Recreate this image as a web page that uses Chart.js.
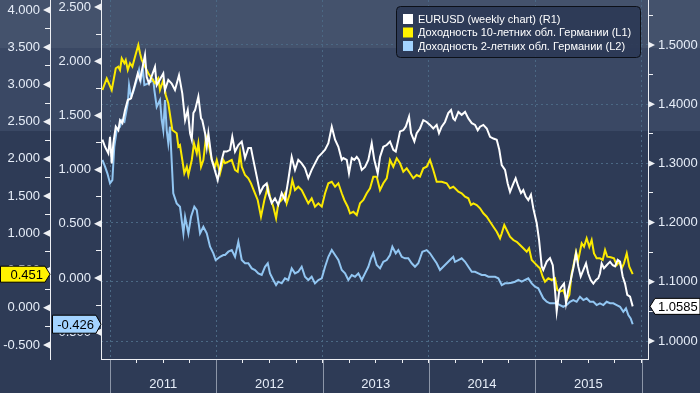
<!DOCTYPE html>
<html>
<head>
<meta charset="utf-8">
<script src="https://cdn.jsdelivr.net/npm/chart.js@4.4.1/dist/chart.umd.min.js"></script>
<style>
  html, body { margin: 0; padding: 0; }
  body {
    width: 700px; height: 393px; overflow: hidden;
    background: linear-gradient(to bottom, #44526c 0px, #44526c 48px, #3a4864 48px, #3a4864 131px, #2e3b56 131px, #2e3b56 393px);
  }
  canvas { display: block; }
</style>
</head>
<body>
<canvas id="fxChart" width="700" height="393"></canvas>
<script>
// EURUSD weekly (right axis)
const eurusdTimes = [
  2010.928, 2010.953, 2010.984, 2011.000, 2011.016, 2011.031, 2011.054, 2011.078, 2011.094, 2011.116,
  2011.141, 2011.167, 2011.198, 2011.229, 2011.261, 2011.282, 2011.329, 2011.345, 2011.367, 2011.423,
  2011.439, 2011.501, 2011.517, 2011.548, 2011.580, 2011.611, 2011.649, 2011.680, 2011.706, 2011.731,
  2011.753, 2011.769, 2011.784, 2011.800, 2011.831, 2011.856, 2011.868, 2011.894, 2011.910, 2011.925,
  2011.957, 2012.013, 2012.051, 2012.072, 2012.098, 2012.129, 2012.150, 2012.176, 2012.207, 2012.239,
  2012.270, 2012.301, 2012.326, 2012.348, 2012.380, 2012.411, 2012.442, 2012.474, 2012.489, 2012.521,
  2012.552, 2012.583, 2012.615, 2012.646, 2012.677, 2012.709, 2012.740, 2012.771, 2012.803, 2012.834,
  2012.865, 2012.897, 2012.928, 2012.960, 2012.992, 2013.023, 2013.054, 2013.086, 2013.117, 2013.148,
  2013.180, 2013.195, 2013.227, 2013.248, 2013.274, 2013.298, 2013.321, 2013.342, 2013.368, 2013.399,
  2013.430, 2013.462, 2013.486, 2013.518, 2013.540, 2013.571, 2013.603, 2013.634, 2013.665, 2013.688,
  2013.712, 2013.728, 2013.759, 2013.782, 2013.813, 2013.832, 2013.863, 2013.885, 2013.916, 2013.947,
  2013.979, 2014.010, 2014.041, 2014.073, 2014.095, 2014.120, 2014.151, 2014.182, 2014.208, 2014.229,
  2014.245, 2014.277, 2014.308, 2014.340, 2014.371, 2014.403, 2014.434, 2014.459, 2014.481, 2014.512,
  2014.544, 2014.575, 2014.606, 2014.638, 2014.662, 2014.685, 2014.716, 2014.741, 2014.763, 2014.794,
  2014.816, 2014.841, 2014.866, 2014.888, 2014.911, 2014.935, 2014.960, 2014.982, 2015.014, 2015.036,
  2015.061, 2015.076, 2015.108, 2015.139, 2015.165, 2015.186, 2015.202, 2015.227, 2015.249, 2015.271,
  2015.290, 2015.311, 2015.334, 2015.358, 2015.384, 2015.405, 2015.428, 2015.453, 2015.478, 2015.499,
  2015.522, 2015.547, 2015.572, 2015.593, 2015.609, 2015.625, 2015.647, 2015.672, 2015.704, 2015.729,
  2015.751, 2015.776, 2015.798, 2015.823, 2015.845, 2015.866, 2015.892, 2015.917
];
const eurusdValues = [
  1.340, 1.328, 1.317, 1.345, 1.300, 1.334, 1.362, 1.356, 1.373, 1.368,
  1.390, 1.407, 1.410, 1.430, 1.452, 1.441, 1.483, 1.446, 1.435, 1.463,
  1.432, 1.452, 1.424, 1.441, 1.435, 1.424, 1.449, 1.418, 1.373, 1.390,
  1.351, 1.340, 1.385, 1.390, 1.413, 1.376, 1.373, 1.351, 1.328, 1.351,
  1.306, 1.272, 1.306, 1.320, 1.320, 1.323, 1.345, 1.320, 1.331, 1.337,
  1.309, 1.326, 1.326, 1.306, 1.278, 1.250, 1.261, 1.266, 1.250, 1.233,
  1.241, 1.230, 1.250, 1.238, 1.272, 1.311, 1.289, 1.306, 1.300, 1.292,
  1.275, 1.289, 1.300, 1.311, 1.317, 1.323, 1.334, 1.362, 1.340, 1.328,
  1.306, 1.309, 1.306, 1.283, 1.309, 1.306, 1.311, 1.306, 1.289, 1.294,
  1.306, 1.334, 1.306, 1.283, 1.311, 1.328, 1.331, 1.337, 1.323, 1.320,
  1.340, 1.354, 1.356, 1.362, 1.379, 1.351, 1.337, 1.351, 1.359, 1.373,
  1.370, 1.365, 1.359, 1.365, 1.351, 1.362, 1.370, 1.385, 1.390, 1.376,
  1.373, 1.387, 1.382, 1.387, 1.376, 1.368, 1.365, 1.356, 1.362, 1.365,
  1.359, 1.345, 1.342, 1.340, 1.323, 1.297, 1.289, 1.266, 1.252, 1.266,
  1.275, 1.261, 1.250, 1.255, 1.244, 1.238, 1.247, 1.224, 1.199, 1.171,
  1.126, 1.120, 1.134, 1.140, 1.128, 1.086, 1.050, 1.086, 1.092, 1.097,
  1.064, 1.086, 1.103, 1.123, 1.148, 1.126, 1.109, 1.120, 1.131, 1.114,
  1.103, 1.097, 1.103, 1.106, 1.114, 1.131, 1.123, 1.128, 1.134, 1.128,
  1.126, 1.137, 1.134, 1.109, 1.097, 1.078, 1.075, 1.0585
];

// German 10y yield (far left axis)
const bund10Times = [
  2010.928, 2010.969, 2011.016, 2011.054, 2011.078, 2011.094, 2011.110, 2011.135, 2011.148, 2011.167,
  2011.188, 2011.210, 2011.235, 2011.266, 2011.282, 2011.298, 2011.329, 2011.360, 2011.392, 2011.423,
  2011.454, 2011.470, 2011.501, 2011.524, 2011.548, 2011.586, 2011.627, 2011.643, 2011.658, 2011.680,
  2011.699, 2011.722, 2011.737, 2011.769, 2011.790, 2011.816, 2011.831, 2011.856, 2011.878, 2011.903,
  2011.931, 2011.957, 2011.988, 2012.004, 2012.035, 2012.066, 2012.082, 2012.113, 2012.145, 2012.176,
  2012.201, 2012.223, 2012.239, 2012.270, 2012.301, 2012.326, 2012.357, 2012.389, 2012.420, 2012.452,
  2012.484, 2012.505, 2012.536, 2012.562, 2012.583, 2012.615, 2012.646, 2012.662, 2012.693, 2012.715,
  2012.740, 2012.771, 2012.803, 2012.834, 2012.865, 2012.897, 2012.928, 2012.960, 2012.992, 2013.023,
  2013.054, 2013.086, 2013.117, 2013.148, 2013.180, 2013.204, 2013.236, 2013.258, 2013.289, 2013.321,
  2013.352, 2013.383, 2013.415, 2013.446, 2013.477, 2013.509, 2013.540, 2013.571, 2013.603, 2013.634,
  2013.665, 2013.697, 2013.728, 2013.759, 2013.791, 2013.822, 2013.853, 2013.885, 2013.916, 2013.947,
  2013.979, 2014.010, 2014.041, 2014.073, 2014.120, 2014.167, 2014.198, 2014.229, 2014.245, 2014.277,
  2014.308, 2014.340, 2014.371, 2014.396, 2014.418, 2014.450, 2014.481, 2014.512, 2014.544, 2014.575,
  2014.606, 2014.638, 2014.669, 2014.685, 2014.709, 2014.732, 2014.763, 2014.794, 2014.826, 2014.857,
  2014.888, 2014.920, 2014.942, 2014.967, 2014.998, 2015.029, 2015.045, 2015.070, 2015.092, 2015.123,
  2015.155, 2015.186, 2015.208, 2015.233, 2015.264, 2015.296, 2015.321, 2015.343, 2015.358, 2015.384,
  2015.405, 2015.437, 2015.459, 2015.484, 2015.509, 2015.531, 2015.553, 2015.578, 2015.609, 2015.635,
  2015.657, 2015.678, 2015.710, 2015.741, 2015.767, 2015.791, 2015.814, 2015.835, 2015.861, 2015.885,
  2015.917
];
const bund10Values = [
  2.925, 3.082, 2.925, 3.217, 3.238, 3.194, 3.351, 3.284, 3.328, 3.194,
  3.284, 3.238, 3.373, 3.530, 3.418, 3.328, 3.238, 3.150, 3.082, 3.015,
  3.082, 2.925, 3.060, 2.858, 2.747, 2.388, 2.344, 2.164, 2.186, 1.985,
  1.806, 1.895, 1.783, 1.985, 2.209, 2.075, 2.209, 1.895, 1.985, 2.298,
  2.164, 1.985, 1.895, 1.985, 1.806, 1.985, 1.941, 1.962, 1.985, 1.851,
  1.828, 2.075, 1.895, 1.783, 1.739, 1.672, 1.559, 1.448, 1.223, 1.448,
  1.626, 1.492, 1.358, 1.202, 1.403, 1.448, 1.538, 1.403, 1.538, 1.716,
  1.582, 1.626, 1.582, 1.492, 1.403, 1.470, 1.358, 1.403, 1.358, 1.538,
  1.672, 1.693, 1.626, 1.672, 1.538, 1.448, 1.358, 1.269, 1.290, 1.246,
  1.403, 1.448, 1.538, 1.605, 1.761, 1.761, 1.582, 1.672, 1.739, 1.985,
  1.895, 2.008, 1.941, 1.828, 1.873, 1.806, 1.739, 1.783, 1.761, 1.873,
  1.895, 1.985, 1.851, 1.693, 1.693, 1.672, 1.605, 1.626, 1.605, 1.559,
  1.538, 1.492, 1.470, 1.380, 1.403, 1.380, 1.336, 1.269, 1.223, 1.156,
  1.089, 1.022, 0.933, 1.000, 1.112, 1.045, 0.955, 0.910, 0.887, 0.843,
  0.799, 0.753, 0.799, 0.642, 0.597, 0.552, 0.530, 0.417, 0.350, 0.396,
  0.373, 0.396, 0.238, 0.216, 0.238, 0.104, 0.171, 0.463, 0.552, 0.753,
  0.642, 0.866, 0.820, 0.933, 0.820, 0.910, 0.731, 0.664, 0.664, 0.642,
  0.776, 0.686, 0.678, 0.664, 0.574, 0.619, 0.530, 0.597, 0.731, 0.552,
  0.451
];

// German 2y yield (inner left axis)
const bund2Times = [
  2010.928, 2010.953, 2010.975, 2011.000, 2011.022, 2011.040, 2011.063, 2011.094, 2011.110, 2011.135,
  2011.167, 2011.179, 2011.198, 2011.219, 2011.251, 2011.273, 2011.289, 2011.308, 2011.323, 2011.360,
  2011.407, 2011.417, 2011.439, 2011.470, 2011.486, 2011.501, 2011.517, 2011.533, 2011.548, 2011.564,
  2011.595, 2011.627, 2011.658, 2011.690, 2011.706, 2011.737, 2011.762, 2011.793, 2011.816, 2011.847,
  2011.878, 2011.910, 2011.941, 2011.972, 2011.994, 2012.035, 2012.066, 2012.082, 2012.113, 2012.145,
  2012.176, 2012.207, 2012.239, 2012.270, 2012.301, 2012.333, 2012.364, 2012.395, 2012.427, 2012.458,
  2012.484, 2012.505, 2012.536, 2012.562, 2012.583, 2012.615, 2012.646, 2012.677, 2012.709, 2012.740,
  2012.771, 2012.803, 2012.834, 2012.865, 2012.897, 2012.928, 2012.960, 2012.992, 2013.023, 2013.054,
  2013.086, 2013.117, 2013.148, 2013.180, 2013.211, 2013.242, 2013.274, 2013.305, 2013.336, 2013.368,
  2013.399, 2013.430, 2013.455, 2013.477, 2013.509, 2013.540, 2013.571, 2013.603, 2013.634, 2013.656,
  2013.688, 2013.712, 2013.744, 2013.775, 2013.806, 2013.838, 2013.869, 2013.900, 2013.938, 2013.979,
  2014.010, 2014.041, 2014.073, 2014.104, 2014.151, 2014.198, 2014.229, 2014.245, 2014.277, 2014.308,
  2014.340, 2014.371, 2014.403, 2014.434, 2014.465, 2014.497, 2014.528, 2014.559, 2014.591, 2014.622,
  2014.653, 2014.685, 2014.716, 2014.747, 2014.779, 2014.810, 2014.841, 2014.873, 2014.904, 2014.935,
  2014.967, 2014.998, 2015.029, 2015.076, 2015.108, 2015.139, 2015.170, 2015.202, 2015.233, 2015.264,
  2015.296, 2015.327, 2015.358, 2015.390, 2015.421, 2015.453, 2015.484, 2015.515, 2015.547, 2015.578,
  2015.609, 2015.641, 2015.672, 2015.704, 2015.735, 2015.767, 2015.798, 2015.829, 2015.854, 2015.876,
  2015.898, 2015.917
];
const bund2Values = [
  1.089, 1.027, 0.966, 0.874, 0.904, 1.211, 1.365, 1.396, 1.458, 1.442,
  1.612, 1.780, 1.672, 1.719, 1.827, 1.919, 1.827, 1.934, 1.780, 1.796,
  1.827, 1.734, 1.580, 1.642, 1.458, 1.365, 1.642, 1.365, 1.243, 1.396,
  0.781, 0.689, 0.658, 0.412, 0.565, 0.412, 0.565, 0.658, 0.627, 0.412,
  0.473, 0.412, 0.289, 0.228, 0.166, 0.196, 0.212, 0.212, 0.243, 0.258,
  0.196, 0.335, 0.166, 0.136, 0.136, 0.089, 0.074, 0.043, 0.028, 0.104,
  0.136, 0.043, -0.018, -0.065, -0.034, -0.049, -0.003, -0.018, 0.089, 0.043,
  0.058, 0.104, 0.012, -0.018, 0.012, -0.049, -0.018, -0.003, 0.104, 0.196,
  0.258, 0.212, 0.166, 0.074, 0.043, -0.018, 0.028, 0.012, 0.043, -0.018,
  0.043, 0.104, 0.182, 0.228, 0.120, 0.089, 0.150, 0.166, 0.212, 0.289,
  0.228, 0.258, 0.196, 0.182, 0.182, 0.136, 0.104, 0.136, 0.243, 0.258,
  0.228, 0.182, 0.136, 0.074, 0.120, 0.166, 0.196, 0.150, 0.166, 0.182,
  0.150, 0.104, 0.058, 0.058, 0.043, 0.028, 0.028, 0.012, 0.012, 0.012,
  -0.003, -0.065, -0.049, -0.049, -0.043, -0.034, -0.018, -0.034, -0.018, -0.003,
  -0.049, -0.080, -0.095, -0.187, -0.219, -0.233, -0.233, -0.233, -0.249, -0.265,
  -0.249, -0.219, -0.203, -0.219, -0.173, -0.203, -0.187, -0.219, -0.219, -0.249,
  -0.233, -0.249, -0.219, -0.233, -0.233, -0.249, -0.265, -0.311, -0.280, -0.341,
  -0.372, -0.426
];

const seriesLabels = [
  'EURUSD (weekly chart) (R1)',
  'Доходность 10-летних обл. Германии (L1)',
  'Доходность 2-летних обл. Германии (L2)'
];
const yearLines = [2011, 2012, 2013, 2014, 2015, 2016];

const labelColor = '#e6edf8';
const gridColor = '#4b6884';
const axisColor = '#eef0f4';
const tickFont = { family: 'Liberation Sans', size: 13 };

const onStep = (v, s) => Math.abs(v / s - Math.round(v / s)) < 1e-6;
const toPoints = (ts, vs) => ts.map((t, i) => ({ x: t, y: vs[i] }));

// triangles, last-value tags, year separators and the legend box
const extras = {
  id: 'extras',
  afterDraw(chart) {
    const c = chart.ctx;
    const area = chart.chartArea;
    const s = chart.scales;
    c.save();

    c.strokeStyle = '#8c96a8';
    c.lineWidth = 1;
    yearLines.forEach(yr => {
      const px = Math.round(s.x.getPixelForValue(yr)) + 0.5;
      c.beginPath();
      c.moveTo(px, area.bottom + 1);
      c.lineTo(px, chart.height);
      c.stroke();
    });

    c.fillStyle = axisColor;
    const marks = (scale, step, dir) => {
      const x0 = dir < 0 ? scale.right : scale.left;
      scale.ticks.forEach(t => {
        if (!onStep(t.value, step)) return;
        const py = scale.getPixelForValue(t.value);
        c.beginPath();
        c.moveTo(x0, py - 3.5);
        c.lineTo(x0 + dir * 7, py);
        c.lineTo(x0, py + 3.5);
        c.closePath();
        c.fill();
      });
    };
    marks(s.y10, 0.5, -1);
    marks(s.y2, 0.5, -1);
    marks(s.yR, 0.1, 1);

    const tag = (tipX, py, boxX, h, dir, fill, text) => {
      c.beginPath();
      c.moveTo(tipX, py);
      c.lineTo(tipX - dir * 5, py - h / 2);
      c.lineTo(boxX, py - h / 2);
      c.lineTo(boxX, py + h / 2);
      c.lineTo(tipX - dir * 5, py + h / 2);
      c.closePath();
      c.fillStyle = fill;
      c.fill();
      c.strokeStyle = '#000';
      c.lineWidth = 1;
      c.stroke();
      c.fillStyle = '#000';
      c.font = '13px "Liberation Sans"';
      c.textBaseline = 'middle';
      c.textAlign = dir > 0 ? 'right' : 'left';
      c.fillText(text, dir > 0 ? tipX - 7 : tipX + 8, py + 1);
    };
    const last10 = bund10Values[bund10Values.length - 1];
    const last2 = bund2Values[bund2Values.length - 1];
    const lastFx = eurusdValues[eurusdValues.length - 1];
    tag(s.y10.right, s.y10.getPixelForValue(last10), 0.5, 16, 1, '#fff200', last10.toFixed(3));
    tag(s.y2.right, s.y2.getPixelForValue(last2), 52.5, 18, 1, '#a3d3ff', last2.toFixed(3));
    tag(s.yR.left + 2, s.yR.getPixelForValue(lastFx), 700, 16, -1, '#ffffff', lastFx.toFixed(4));

    // legend
    c.beginPath();
    c.roundRect(396.5, 6.5, 244, 51, 4);
    c.fillStyle = 'rgba(44, 58, 86, 0.92)';
    c.fill();
    c.strokeStyle = '#0c1018';
    c.stroke();
    c.font = '11px "Liberation Sans"';
    c.textAlign = 'left';
    c.textBaseline = 'middle';
    chart.data.datasets.forEach((ds, i) => {
      const ly = 19 + i * 13.5;
      c.fillStyle = ds.legendColor;
      c.fillRect(403, ly - 5, 10, 10);
      c.fillStyle = '#ffffff';
      c.fillText(ds.label, 418, ly + 0.5);
    });
    c.restore();
  }
};

const ctx = document.getElementById('fxChart');
new Chart(ctx, {
  type: 'line',
  data: {
    datasets: [{
      label: seriesLabels[0],
      data: toPoints(eurusdTimes, eurusdValues),
      borderColor: '#ffffff',
      legendColor: '#ffffff',
      yAxisID: 'yR'
    }, {
      label: seriesLabels[1],
      data: toPoints(bund10Times, bund10Values),
      borderColor: '#fbe900',
      legendColor: '#fff200',
      yAxisID: 'y10'
    }, {
      label: seriesLabels[2],
      data: toPoints(bund2Times, bund2Values),
      borderColor: '#92c6f2',
      legendColor: '#a3d3ff',
      yAxisID: 'y2'
    }]
  },
  options: {
    responsive: false,
    animation: false,
    layout: { padding: 0, autoPadding: false },
    plugins: { legend: { display: false }, tooltip: { enabled: false } },
    elements: {
      point: { radius: 0 },
      line: { borderWidth: 2, tension: 0 }
    },
    scales: {
      x: {
        type: 'linear',
        min: 2010.915,
        max: 2016.061,
        afterFit: sc => { sc.height = 34; sc.paddingLeft = 0; sc.paddingRight = 0; },
        border: { color: axisColor, width: 1, dash: [2, 3] },
        grid: {
          color: c => (c.tick && onStep(c.tick.value, 1)) ? gridColor : 'transparent',
          tickColor: axisColor,
          tickLength: 4
        },
        ticks: {
          stepSize: 0.25,
          includeBounds: false,
          autoSkip: false,
          maxRotation: 0,
          padding: 14,
          color: labelColor,
          font: tickFont,
          callback: v => onStep(v - 0.5, 1) ? String(Math.floor(v)) : ''
        }
      },
      y10: {
        axis: 'y',
        position: 'left',
        weight: 1,
        min: -0.688,
        max: 4.134,
        afterFit: sc => { sc.width = 50; sc.paddingTop = 0; sc.paddingBottom = 0; },
        border: { color: axisColor, width: 1 },
        grid: { drawOnChartArea: false, tickColor: axisColor, tickLength: 5 },
        ticks: {
          stepSize: 0.25,
          includeBounds: false,
          autoSkip: false,
          padding: 5,
          color: labelColor,
          font: tickFont,
          callback: v => onStep(v, 0.5) ? v.toFixed(3) : ''
        }
      },
      y2: {
        axis: 'y',
        position: 'left',
        weight: 0,
        min: -0.747,
        max: 2.565,
        afterFit: sc => { sc.width = 51; sc.paddingTop = 0; sc.paddingBottom = 0; },
        border: { color: axisColor, width: 1 },
        grid: { drawOnChartArea: false, tickColor: axisColor, tickLength: 5 },
        ticks: {
          stepSize: 0.25,
          includeBounds: false,
          autoSkip: false,
          padding: 5,
          color: labelColor,
          font: tickFont,
          callback: v => onStep(v, 0.5) ? v.toFixed(3) : ''
        }
      },
      yR: {
        axis: 'y',
        position: 'right',
        min: 0.9696,
        max: 1.576,
        afterFit: sc => { sc.width = 52; sc.paddingTop = 0; sc.paddingBottom = 0; },
        border: { color: axisColor, width: 1, dash: [2, 3] },
        grid: {
          color: c => (c.tick && onStep(c.tick.value, 0.1)) ? gridColor : 'transparent',
          tickColor: axisColor,
          tickLength: 5
        },
        ticks: {
          stepSize: 0.05,
          includeBounds: false,
          autoSkip: false,
          padding: 5,
          color: labelColor,
          font: tickFont,
          callback: v => onStep(v, 0.1) ? v.toFixed(4) : ''
        }
      }
    }
  },
  plugins: [extras]
});
</script>
</body>
</html>
